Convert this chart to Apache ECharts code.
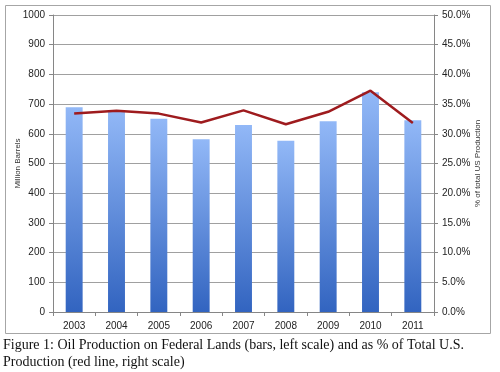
<!DOCTYPE html>
<html><head><meta charset="utf-8">
<script src="https://cdn.jsdelivr.net/npm/echarts@6/dist/echarts.min.js"></script>
<style>html,body{margin:0;padding:0;background:#fff}#c{width:500px;height:372px}</style>
</head><body><div id="c"></div>
<script>
const years = ['2003','2004','2005','2006','2007','2008','2009','2010','2011'];
const barrels = [689, 680, 651, 582, 630, 577, 642, 740, 646];
const pctTotal = [33.4, 33.9, 33.4, 31.9, 33.95, 31.6, 33.7, 37.25, 31.8];
const leftTicks = [0, 1000, 100];
const rightTicks = [0, 50, 5];
const caption1 = 'Figure 1: Oil Production on Federal Lands (bars, left scale) and as % of Total U.S.';
const caption2 = 'Production (red line, right scale)';

const chart = echarts.init(document.getElementById('c'), null, {renderer:'canvas'});
const lab = {color:'#222', fontSize:10, fontFamily:'Liberation Sans, Arial, sans-serif'};
chart.setOption({
  animation:false,
  backgroundColor:'#fff',
  grid:{left:53, right:66, top:15, bottom:60, containLabel:false, outerBoundsMode:'none'},
  graphic:[
    {type:'rect', shape:{x:5.5,y:5.5,width:485,height:328}, style:{fill:'none', stroke:'#a6a6a6', lineWidth:1}, z:-10},
    {type:'text', left:3, top:338, style:{text:caption1, font:'14px "Liberation Serif", "DejaVu Serif", serif', fill:'#111'}},
    {type:'text', left:3, top:355, style:{text:caption2, font:'14px "Liberation Serif", "DejaVu Serif", serif', fill:'#111'}}
  ],
  xAxis:{type:'category', data:years,
    axisLine:{lineStyle:{color:'#868686'}},
    axisTick:{show:true, lineStyle:{color:'#868686'}, length:4},
    axisLabel:Object.assign({margin:9}, lab)},
  yAxis:[
    {type:'value', min:leftTicks[0], max:leftTicks[1], interval:leftTicks[2],
     name:'Million Barrels', nameLocation:'middle', nameGap:31, nameRotate:90, nameMoveOverlap:false,
     nameTextStyle:{fontSize:8, color:'#333', fontFamily:'Liberation Sans, Arial, sans-serif'},
     axisLine:{show:true, lineStyle:{color:'#868686'}},
     axisTick:{show:true, length:4, lineStyle:{color:'#868686'}},
     splitLine:{lineStyle:{color:'#a0a0a0'}},
     axisLabel:Object.assign({margin:8, formatter:v=>String(v)}, lab)},
    {type:'value', min:rightTicks[0], max:rightTicks[1], interval:rightTicks[2], position:'right',
     name:'% of total US Production', nameLocation:'middle', nameGap:40, nameRotate:90, nameMoveOverlap:false,
     nameTextStyle:{fontSize:8, color:'#333', fontFamily:'Liberation Sans, Arial, sans-serif'},
     axisLine:{show:true, lineStyle:{color:'#868686'}},
     axisTick:{show:true, length:4, lineStyle:{color:'#868686'}},
     splitLine:{show:false},
     axisLabel:Object.assign({margin:8, formatter:v=>v.toFixed(1)+'%'}, lab)}
  ],
  series:[
    {type:'bar', data:barrels, yAxisIndex:0, barWidth:'40%',
     itemStyle:{color:new echarts.graphic.LinearGradient(0,0,0,1,[{offset:0,color:'#92b8f7'},{offset:1,color:'#3264c0'}])}},
    {type:'line', data:pctTotal, yAxisIndex:1, symbol:'none',
     lineStyle:{color:'#9e1b1e', width:2.5}}
  ]
});
</script></body></html>
